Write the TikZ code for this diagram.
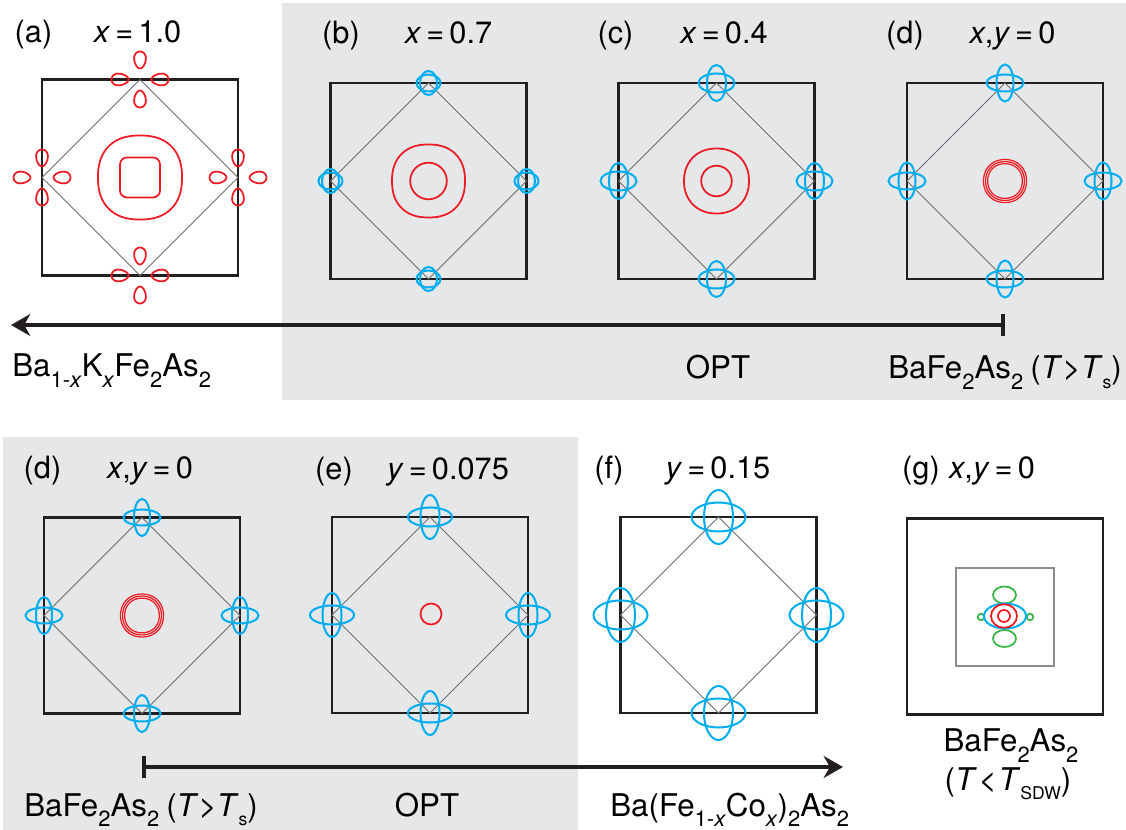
\documentclass[tikz,border=0pt]{standalone}
\usepackage{fontspec}
\setmainfont{TeX Gyre Heros}
\usetikzlibrary{arrows.meta}
\definecolor{bgg}{HTML}{E6E7E8}
\definecolor{ink}{HTML}{231F20}
\definecolor{dgr}{HTML}{6D6E71}
\definecolor{lgr}{HTML}{8A8C8E}
\definecolor{fsred}{HTML}{ED1C24}
\definecolor{fsblue}{HTML}{00AEEF}
\definecolor{fsgreen}{HTML}{39B54A}
\tikzset{
 bzsq/.style={draw=ink,line width=1.2pt},
 bzdia/.style={draw=dgr,line width=0.55pt},
 hole/.style={draw=fsred,line width=1pt},
 ring/.style={draw=fsred,line width=0.7pt},
 elec/.style={draw=fsblue,line width=1.15pt},
 sdw/.style={draw=fsgreen,line width=1pt},
 ptitle/.style={anchor=base,font=\fontsize{17.5}{17.5}\selectfont,inner sep=0pt},
 blabel/.style={font=\fontsize{17.8}{20}\selectfont,inner sep=0pt},
 doparrow/.style={draw=ink,line width=2pt,{Bar[width=13pt]}-{Stealth[length=11pt,width=12.5pt,inset=3.5pt]}},
}
\newcommand\lo[1]{\raisebox{-0.34em}{\fontsize{12.5}{12.5}\selectfont #1}}
\newcommand\los[1]{\raisebox{-0.3em}{\fontsize{10}{10}\selectfont #1}}
\newcommand\bzone[2]{%
  \draw[bzsq] (#1-98,#2-98) rectangle (#1+98,#2+98);
  \draw[bzdia] (#1,#2-98) -- (#1+98,#2) -- (#1,#2+98) -- (#1-98,#2) -- cycle;}
\newcommand\mcross[4]{%
  \foreach \dx/\dy in {0/-98,98/0,0/98,-98/0}{%
    \draw[elec] (#1+\dx,#2+\dy) ellipse [x radius=#3, y radius=#4];
    \draw[elec] (#1+\dx,#2+\dy) ellipse [x radius=#4, y radius=#3];}}
\newcommand\sqel[5]{% style cx cy R n
  \draw[#1, shift={(#2,#3)}] plot[smooth cycle, domain=2.5:357.5, samples=72, variable=\t]
   ({#4*sign(cos(\t))*pow(abs(cos(\t)),2/#5)},{#4*sign(sin(\t))*pow(abs(sin(\t)),2/#5)});}
\newcommand\pocket[3]{%
  \draw[hole, shift={(#1,#2)}, rotate=#3] plot[smooth cycle, domain=0:345, samples=24, variable=\t]
   ({8.5*cos(\t)},{5.8*sin(\t)*(1-0.2*cos(\t))});}
\newcommand\pockets[2]{%
  \pocket{#1}{#2-19.5}{-90}\pocket{#1}{#2+19.5}{90}%
  \pocket{#1-20}{#2}{0}\pocket{#1+20}{#2}{180}}
\newcommand\rings[2]{%
  \sqel{ring}{#1}{#2}{21.5}{2.12}\sqel{ring}{#1}{#2}{19.4}{2.12}\sqel{ring}{#1}{#2}{17.3}{2.12}}
\begin{document}
\begin{tikzpicture}[x=0.02cm,y=-0.02cm]
\useasboundingbox (0,0) rectangle (1126,830);
% backgrounds
\fill[bgg] (282,3) rectangle (1126,400);
\fill[bgg] (3,437) rectangle (578,830);
% ---------- top row ----------
% (a)
\bzone{140}{177.5}
\sqel{hole}{140}{177.5}{42}{2.35}
\draw[hole, rounded corners=4pt] (120,157.5) rectangle (160,197.5);
\pockets{140}{79.5}\pockets{238}{177.5}\pockets{140}{275.5}\pockets{42}{177.5}
% (b)
\bzone{428.5}{181}
\sqel{hole}{428.5}{181}{36.5}{2.3}
\draw[hole] (428.5,181) circle [radius=18.3];
\mcross{428.5}{181}{12}{8.5}
% (c)
\bzone{716.5}{181}
\sqel{hole}{716.5}{181}{32.5}{2.15}
\draw[hole] (716.5,181) circle [radius=15.3];
\mcross{716.5}{181}{18}{9.5}
% (d)
\bzone{1005}{181}
\rings{1005}{181}
\mcross{1005}{181}{18.5}{8.5}
% ---------- bottom row ----------
% (d)
\bzone{142}{615.5}
\rings{142}{615.5}
\mcross{142}{615.5}{18.5}{8}
% (e)
\bzone{430}{615}
\draw[hole] (431,614) circle [radius=10.5];
\mcross{430}{615}{22}{9.5}
% (f)
\bzone{718.5}{615}
\mcross{718.5}{615}{27}{14.5}
% (g)
\draw[bzsq] (907,518.5) rectangle (1103,714.5);
\draw[draw=lgr,line width=0.7pt] (956,568) rectangle (1054,666);
\draw[sdw] (1004.5,595) ellipse [x radius=11.5, y radius=8.5];
\draw[sdw] (1004.5,638.5) ellipse [x radius=11.5, y radius=8.5];
\draw[sdw] (981,617) circle [radius=3.3];
\draw[sdw] (1030,617) circle [radius=3.3];
\draw[elec] (1005,616) ellipse [x radius=21, y radius=12.5];
\draw[hole] (1004,616) ellipse [x radius=13, y radius=11.8];
\draw[hole] (1004,616) circle [radius=6];
% ---------- panel titles ----------
\node[ptitle] (ta) at (33.5,43) {(a)};
\node[ptitle] (tax) at (137.5,43) {\textit{x}\,=\,1.0};
\node[ptitle] (tb) at (341,44) {(b)};
\node[ptitle] (tbx) at (448.5,44) {\textit{x}\,=\,0.7};
\node[ptitle] (tc) at (615.5,44) {(c)};
\node[ptitle] (tcx) at (724,44) {\textit{x}\,=\,0.4};
\node[ptitle] (td) at (905,44) {(d)};
\node[ptitle] (tdx) at (1012.5,44) {\textit{x},\textit{y}\,=\,0};
\node[ptitle] (td2) at (42.5,479) {(d)};
\node[ptitle] (td2x) at (150,479) {\textit{x},\textit{y}\,=\,0};
\node[ptitle] (te) at (334,480) {(e)};
\node[ptitle] (tex) at (448,480) {\textit{y}\,=\,0.075};
\node[ptitle] (tf) at (609,479) {(f)};
\node[ptitle] (tfx) at (718,479) {\textit{y}\,=\,0.15};
\node[ptitle] (tg) at (921,479) {(g)};
\node[ptitle] (tgx) at (992,479) {\textit{x},\textit{y}\,=\,0};
% ---------- arrows ----------
\coordinate (kStart) at (1005,325);
\coordinate (kEnd) at (11,325);
\draw[doparrow] (kStart) -- (kEnd);
\coordinate (cStart) at (142,767);
\coordinate (cEnd) at (843,767);
\draw[doparrow] (cStart) -- (cEnd);
% ---------- bottom labels ----------
\node[blabel,anchor=base west] (lk) at (12,377) {Ba\lo{1-\textit{x}}K\lo{\textit{x}}Fe\lo{2}As\lo{2}};
\node[blabel,anchor=base] (lopt1) at (718,379) {OPT};
\node[blabel,anchor=base west] (lba1) at (888,379) {BaFe\lo{2}As\lo{2}\kern4pt(\textit{T}>\textit{T}\los{s})};
\node[blabel,anchor=base west] (lba2) at (24,816) {BaFe\lo{2}As\lo{2}\kern4pt(\textit{T}>\textit{T}\los{s})};
\node[blabel,anchor=base] (lopt2) at (427,816) {OPT};
\node[blabel,anchor=base west] (lco) at (610,816) {Ba(Fe\lo{1-\textit{x}}Co\lo{\textit{x}})\lo{2}As\lo{2}};
\node[blabel,anchor=base] (lg1) at (1011,752) {BaFe\lo{2}As\lo{2}};
\node[blabel,anchor=base] (lg2) at (1008,790) {(\textit{T}\kern1pt<\kern1pt\textit{T}\los{SDW})};
\end{tikzpicture}
\end{document}
